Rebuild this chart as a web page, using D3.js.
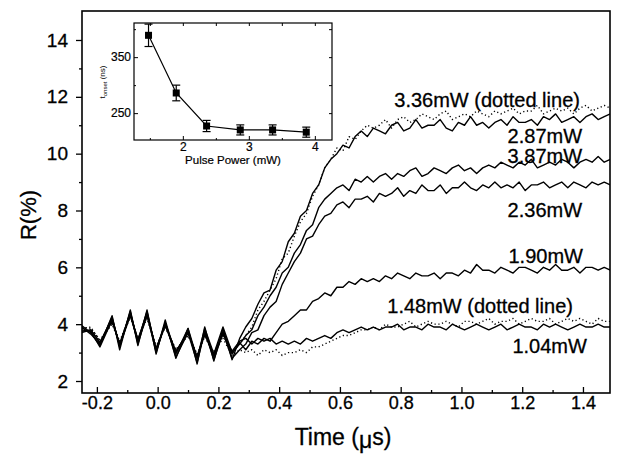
<!DOCTYPE html>
<html>
<head>
<meta charset="utf-8">
<script src="https://cdn.jsdelivr.net/npm/d3@7/dist/d3.min.js"></script>
<style>
body { margin: 0; background: #fff; }
text { font-family: Arial, "Liberation Sans", sans-serif; fill: #000; }
.heavy text, text.heavy { stroke: #000; stroke-width: 0.3px; }
</style>
</head>
<body>
<svg id="chart" width="617" height="462"></svg>
<script>
// time axis (us) - denser in the oscillating part before the onset
const time = [-0.25, -0.22, -0.19, -0.15, -0.125, -0.09, -0.065, -0.035, -0.005, 0.025, 0.06, 0.1, 0.13, 0.155, 0.185, 0.215, 0.245, 0.27,
    0.29, 0.31, 0.33, 0.35, 0.37, 0.39, 0.41, 0.43, 0.45, 0.47, 0.49, 0.51, 0.53, 0.55, 0.57, 0.59, 0.61, 0.63, 0.65, 0.67, 0.69,
    0.71, 0.73, 0.75, 0.77, 0.79, 0.81, 0.83, 0.85, 0.87, 0.89, 0.91, 0.93, 0.95, 0.97, 0.99, 1.01, 1.03, 1.05, 1.07, 1.09,
    1.11, 1.13, 1.15, 1.17, 1.19, 1.21, 1.23, 1.25, 1.27, 1.29, 1.31, 1.33, 1.35, 1.37, 1.39, 1.41, 1.43, 1.45, 1.47, 1.49];

// reflectivity R(%) for each pulse power
const r336 = [3.85, 3.9, 3.4, 4.05, 3.4, 4.3, 3.5, 4.2, 3.2, 3.9, 3.1, 3.6, 2.9, 3.6, 3.0, 3.6, 3.0, 3.3,
    3.6, 3.9, 4.5, 4.8, 5.2, 5.6, 6.3, 6.5, 7.1, 7.6, 7.9, 8.5, 8.9, 9.5, 9.8, 10.2, 10.1, 10.6, 10.5, 10.8, 11.0,
    10.9, 11.0, 11.2, 10.9, 11.2, 11.3, 11.1, 11.2, 11.4, 11.3, 11.2, 11.4, 11.5, 11.2, 11.3, 11.4, 11.3, 11.5, 11.4, 11.3,
    11.5, 11.4, 11.5, 11.6, 11.4, 11.5, 11.5, 11.7, 11.4, 11.5, 11.6, 11.5, 11.6, 11.4, 11.6, 11.7, 11.5, 11.6, 11.7, 11.6];
const r287 = [3.95, 3.7, 3.25, 4.3, 3.1, 4.5, 3.25, 4.5, 2.95, 4.15, 2.8, 3.85, 2.6, 3.9, 2.7, 3.85, 2.75, 3.5,
    3.9, 4.2, 4.7, 5.1, 5.2, 5.9, 6.2, 6.9, 7.2, 7.8, 8.0, 8.6, 8.9, 9.5, 9.8, 10.0, 10.3, 10.2, 10.6, 10.8, 10.6,
    10.9, 10.8, 10.7, 11.0, 11.1, 10.8, 10.9, 11.2, 10.9, 11.0, 11.0, 11.2, 10.9, 10.8, 11.1, 11.0, 11.3, 11.0, 11.1, 10.9,
    11.1, 11.2, 11.0, 11.3, 11.1, 11.1, 11.2, 11.0, 11.3, 11.2, 11.4, 11.1, 11.2, 11.3, 11.1, 11.3, 11.4, 11.2, 11.3, 11.4];
const r387 = [3.75, 3.8, 3.35, 4.1, 3.3, 4.35, 3.45, 4.4, 3.1, 4.05, 3.0, 3.75, 2.8, 3.85, 2.95, 3.9, 3.0, 3.3,
    3.6, 3.8, 4.3, 4.6, 5.0, 5.3, 5.8, 6.0, 6.5, 6.8, 7.3, 7.5, 8.1, 8.4, 8.6, 8.8, 8.9, 8.7, 9.1, 9.0, 9.2,
    9.0, 9.2, 9.3, 9.1, 9.3, 9.2, 9.4, 9.5, 9.2, 9.3, 9.5, 9.4, 9.3, 9.5, 9.6, 9.4, 9.5, 9.3, 9.5, 9.6,
    9.5, 9.7, 9.6, 9.5, 9.7, 9.6, 9.8, 9.5, 9.6, 9.7, 9.6, 9.8, 9.7, 9.5, 9.7, 9.8, 9.7, 9.9, 9.7, 9.8];
const r236 = [3.9, 3.65, 3.3, 4.25, 3.2, 4.45, 3.3, 4.35, 3.0, 4.05, 2.85, 3.7, 2.65, 3.75, 2.75, 3.7, 2.8, 3.1,
    3.3, 3.7, 3.8, 4.3, 4.6, 4.8, 5.4, 5.8, 6.2, 6.5, 7.0, 7.1, 7.5, 7.8, 7.9, 8.2, 8.3, 8.1, 8.4, 8.4, 8.5,
    8.3, 8.6, 8.5, 8.6, 8.8, 8.5, 8.7, 8.6, 8.9, 8.7, 8.7, 8.9, 8.6, 8.8, 8.8, 9.0, 8.8, 8.7, 8.9, 8.8,
    9.0, 8.8, 8.9, 8.8, 9.0, 8.7, 8.9, 8.9, 9.0, 8.8, 8.9, 9.0, 8.8, 9.0, 8.9, 8.8, 9.0, 8.9, 9.0, 8.9];
const r190 = [3.8, 3.75, 3.2, 4.15, 3.3, 4.4, 3.4, 4.45, 3.05, 4.0, 2.95, 3.85, 2.8, 3.75, 2.85, 3.75, 2.95, 3.35,
    3.1, 3.4, 3.3, 3.5, 3.4, 3.7, 4.0, 4.1, 4.3, 4.5, 4.5, 4.8, 4.9, 5.1, 5.0, 5.3, 5.3, 5.5, 5.4, 5.6, 5.5,
    5.6, 5.5, 5.7, 5.6, 5.8, 5.7, 5.6, 5.8, 5.7, 5.7, 5.8, 5.6, 5.8, 5.8, 5.7, 5.9, 5.8, 6.1, 5.9, 5.9,
    5.8, 6.0, 5.9, 5.8, 6.0, 6.0, 5.9, 5.8, 6.0, 5.9, 6.1, 5.9, 5.9, 6.0, 5.8, 6.0, 6.0, 5.9, 6.0, 5.9];
const r148 = [3.9, 3.85, 3.45, 4.0, 3.35, 4.25, 3.5, 4.25, 3.2, 3.9, 3.1, 3.6, 2.95, 3.55, 3.0, 3.5, 2.9, 3.1,
    3.0, 3.1, 2.9, 3.1, 3.0, 3.1, 2.9, 3.0, 3.0, 3.1, 3.0, 3.2, 3.2, 3.3, 3.4, 3.5, 3.6, 3.6, 3.7, 3.8, 3.8,
    3.9, 3.8, 4.0, 3.9, 3.9, 4.0, 4.1, 3.9, 4.0, 4.1, 4.0, 4.0, 4.1, 4.0, 3.9, 4.1, 4.1, 4.0, 4.1, 4.2,
    4.0, 4.1, 4.1, 4.2, 4.0, 4.1, 4.2, 4.1, 4.1, 4.2, 4.0, 4.1, 4.2, 4.1, 4.2, 4.1, 4.0, 4.2, 4.1, 4.1];
const r104 = [3.7, 3.8, 3.35, 4.2, 3.25, 4.3, 3.4, 4.3, 3.15, 3.95, 3.05, 3.7, 2.85, 3.65, 2.9, 3.65, 3.05, 3.4,
    3.5, 3.3, 3.5, 3.4, 3.5, 3.3, 3.4, 3.3, 3.4, 3.3, 3.5, 3.4, 3.5, 3.6, 3.5, 3.7, 3.8, 3.7, 3.8, 3.9, 3.8,
    3.9, 3.8, 3.9, 3.9, 4.0, 3.8, 3.9, 3.9, 3.8, 4.0, 3.9, 3.9, 3.8, 4.0, 3.9, 3.8, 3.9, 4.0, 3.9, 3.8,
    3.9, 4.0, 3.8, 3.9, 4.0, 3.9, 3.9, 3.8, 4.0, 3.9, 4.0, 3.9, 3.8, 3.9, 4.0, 3.9, 3.9, 4.0, 3.9, 3.9];

const seriesNames = ["1.04mW", "1.48mW", "1.90mW", "2.36mW", "3.87mW", "2.87mW", "3.36mW"];
const seriesValues = [r104, r148, r190, r236, r387, r287, r336];
const dottedSeries = ["1.48mW", "3.36mW"];

const xTicks = [-0.2, 0.0, 0.2, 0.4, 0.6, 0.8, 1.0, 1.2, 1.4];
const yTicks = [2, 4, 6, 8, 10, 12, 14];

// inset: onset time vs pulse power
const pulsePower = [1.48, 1.90, 2.36, 2.87, 3.36, 3.87];
const onsetTime = [389, 286, 227, 220, 220, 216];
const onsetErr = [20, 14, 10, 9, 9, 9];
const insetXTicks = [2, 3, 4];
const insetYTicks = [250, 350];

const svg = d3.select("#chart");
const m = {top: 11, left: 82, right: 7, bottom: 69};
const W = +svg.attr("width") - m.left - m.right;
const H = +svg.attr("height") - m.top - m.bottom;

const x = d3.scaleLinear().domain([-0.249, 1.489]).range([0, W]);
const y = d3.scaleLinear().domain([1.578, 15.02]).range([H, 0]);

svg.append("rect").attr("width", 617).attr("height", 462).attr("fill", "#fff");

const g = svg.append("g").attr("transform", `translate(${m.left},${m.top})`);

g.append("clipPath").attr("id", "clip")
    .append("rect").attr("width", W).attr("height", H);

const line = d3.line()
    .x((d, i) => x(time[i]))
    .y(d => y(d));

g.append("g").attr("clip-path", "url(#clip)")
    .selectAll("path").data(seriesNames)
    .enter().append("path")
    .attr("d", (d, i) => line(seriesValues[i]))
    .attr("fill", "none")
    .attr("stroke", "#000")
    .attr("stroke-width", 1.4)
    .attr("stroke-dasharray", d => dottedSeries.includes(d) ? "1.2,2.6" : null)
    .attr("stroke-linejoin", "round");

// axes: major + minor ticks
const xMinor = xTicks.slice(0, -1).map(v => +(v + 0.1).toFixed(1));
const yMinor = yTicks.slice(0, -1).map(v => v + 1);

const xAxis = d3.axisBottom(x).tickValues(xTicks)
    .tickSizeInner(-6).tickSizeOuter(0).tickPadding(3)
    .tickFormat(d => d.toFixed(1));
const yAxis = d3.axisLeft(y).tickValues(yTicks)
    .tickSizeInner(6).tickSizeOuter(0).tickPadding(8);

const gx = g.append("g").attr("class", "heavy").attr("transform", `translate(0,${H})`).call(xAxis);
gx.selectAll("text").style("font-size", "18px");
g.append("g").attr("transform", `translate(0,${H})`)
    .call(d3.axisBottom(x).tickValues(xMinor).tickSizeInner(-3).tickSizeOuter(0).tickFormat(""));

const gy = g.append("g").attr("class", "heavy").call(yAxis);
gy.selectAll("text").style("font-size", "19px");
g.append("g")
    .call(d3.axisLeft(y).tickValues(yMinor).tickSizeInner(3).tickSizeOuter(0).tickFormat(""));

g.selectAll(".domain").remove();
g.selectAll(".tick line").attr("stroke", "#000").attr("stroke-width", 1.3);

g.append("rect")
    .attr("width", W).attr("height", H)
    .attr("fill", "none").attr("stroke", "#000").attr("stroke-width", 1.6);

// axis titles
svg.append("text")
    .attr("class", "heavy")
    .attr("transform", `translate(36,215) rotate(-90)`)
    .attr("text-anchor", "middle")
    .style("font-size", "22px")
    .text("R(%)");

const xt = svg.append("text")
    .attr("class", "heavy")
    .attr("x", 343).attr("y", 445)
    .attr("text-anchor", "middle")
    .style("font-size", "23px");
xt.append("tspan").text("Time (");
xt.append("tspan").attr("dy", 3).text("\u03bc");
xt.append("tspan").attr("dy", -3).text("s)");

// curve labels
const curveLabels = [
    {text: "3.36mW (dotted line)", t: 1.39, v: 11.65},
    {text: "2.87mW", t: 1.397, v: 10.38},
    {text: "3.87mW", t: 1.397, v: 9.68},
    {text: "2.36mW", t: 1.397, v: 7.77},
    {text: "1.90mW", t: 1.40, v: 6.15},
    {text: "1.48mW (dotted line)", t: 1.367, v: 4.39},
    {text: "1.04mW", t: 1.413, v: 2.99}
];
g.selectAll(".clabel").data(curveLabels)
    .enter().append("text")
    .attr("class", "clabel heavy")
    .attr("x", d => x(d.t))
    .attr("y", d => y(d.v))
    .attr("text-anchor", "end")
    .style("font-size", "20px")
    .text(d => d.text);

// ---- inset ----
const ins = {left: 134, top: 23, width: 198, height: 117};
const ix = d3.scaleLinear().domain([1.26, 4.26]).range([0, ins.width]);
const iy = d3.scaleLinear().domain([202, 411]).range([ins.height, 0]);

const gi = svg.append("g").attr("transform", `translate(${ins.left},${ins.top})`);
gi.append("rect").attr("width", ins.width).attr("height", ins.height).attr("fill", "#fff");

const iMinorX = [1.5, 2.5, 3.5];
const iMinorY = [300, 400];

const tickStyle = sel => {
    sel.select(".domain").remove();
    sel.selectAll("line").attr("stroke", "#000");
    sel.selectAll("text").style("font-size", "12px").attr("stroke", "#000").attr("stroke-width", 0.2);
};
gi.append("g").attr("transform", `translate(0,${ins.height})`)
    .call(d3.axisBottom(ix).tickValues(insetXTicks).tickSizeInner(-4).tickSizeOuter(0).tickPadding(2).tickFormat(d3.format("d")))
    .call(tickStyle);
gi.append("g").attr("transform", `translate(0,${ins.height})`)
    .call(d3.axisBottom(ix).tickValues(iMinorX).tickSizeInner(-2).tickSizeOuter(0).tickFormat(""))
    .call(tickStyle);
gi.append("g")
    .call(d3.axisTop(ix).tickValues(insetXTicks.concat(iMinorX)).tickSizeInner(-3).tickSizeOuter(0).tickFormat(""))
    .call(tickStyle);
gi.append("g")
    .call(d3.axisLeft(iy).tickValues(insetYTicks).tickSizeInner(-4).tickSizeOuter(0).tickPadding(3))
    .call(tickStyle);
gi.append("g")
    .call(d3.axisLeft(iy).tickValues(iMinorY).tickSizeInner(-2).tickSizeOuter(0).tickFormat(""))
    .call(tickStyle);
gi.append("g").attr("transform", `translate(${ins.width},0)`)
    .call(d3.axisRight(iy).tickValues(insetYTicks.concat(iMinorY)).tickSizeInner(-3).tickSizeOuter(0).tickFormat(""))
    .call(tickStyle);

gi.append("rect").attr("width", ins.width).attr("height", ins.height)
    .attr("fill", "none").attr("stroke", "#000").attr("stroke-width", 1.2);

const insetData = pulsePower.map((p, i) => ({p: p, t: onsetTime[i], e: onsetErr[i]}));

gi.append("path")
    .attr("d", d3.line().x(d => ix(d.p)).y(d => iy(d.t))(insetData))
    .attr("fill", "none").attr("stroke", "#000").attr("stroke-width", 1.2);

const eb = gi.selectAll(".eb").data(insetData).enter().append("g").attr("class", "eb");
eb.append("line")
    .attr("x1", d => ix(d.p)).attr("x2", d => ix(d.p))
    .attr("y1", d => iy(d.t - d.e)).attr("y2", d => iy(d.t + d.e))
    .attr("stroke", "#000").attr("stroke-width", 1.2);
eb.selectAll(".cap").data(d => [d.t - d.e, d.t + d.e].map(v => ({p: d.p, v: v})))
    .enter().append("line")
    .attr("x1", d => ix(d.p) - 4).attr("x2", d => ix(d.p) + 4)
    .attr("y1", d => iy(d.v)).attr("y2", d => iy(d.v))
    .attr("stroke", "#000").attr("stroke-width", 1.2);
eb.append("rect")
    .attr("x", d => ix(d.p) - 3.5).attr("y", d => iy(d.t) - 3.5)
    .attr("width", 7).attr("height", 7).attr("fill", "#000");

gi.append("text")
    .attr("x", ins.width / 2).attr("y", ins.height + 24)
    .attr("text-anchor", "middle")
    .attr("stroke", "#000").attr("stroke-width", 0.2)
    .style("font-size", "11.5px")
    .text("Pulse Power (mW)");

const iyl = svg.append("text")
    .attr("transform", `translate(105,82) rotate(-90)`)
    .attr("text-anchor", "middle")
    .style("font-size", "8px");
iyl.append("tspan").text("t");
iyl.append("tspan").attr("dy", 2).style("font-size", "6px").text("onset");
iyl.append("tspan").attr("dy", -2).text(" (ns)");
</script>
</body>
</html>
